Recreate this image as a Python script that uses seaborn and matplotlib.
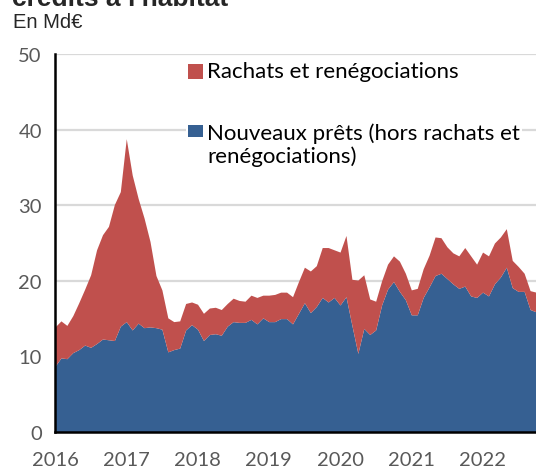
# plot.py
# Production de crédits à l'habitat : nouveaux prêts et rachats/renégociations (Md€)

import numpy as np
import pandas as pd
import matplotlib
matplotlib.use("Agg")
import matplotlib.pyplot as plt
from matplotlib.patches import Rectangle
import seaborn as sns

# Monthly data, Jan 2016 -> Oct 2022
mois = pd.date_range("2016-01-01", periods=82, freq="MS")

nouveaux_prets = [
    8.7, 9.8, 9.7, 10.5, 10.9, 11.5, 11.2, 11.7, 12.3, 12.2, 12.1, 14.0,
    14.6, 13.5, 14.4, 13.8, 13.9, 13.8, 13.6, 10.6, 10.9, 11.1, 13.5, 14.2,
    13.6, 12.1, 12.9, 13.0, 12.8, 14.0, 14.6, 14.5, 14.5, 14.9, 14.3, 15.1,
    14.6, 14.6, 15.0, 15.0, 14.3, 15.7, 17.1, 15.8, 16.6, 17.8, 17.2, 17.8,
    16.8, 17.9, 14.1, 10.4, 13.7, 12.9, 13.5, 16.8, 18.9, 19.9, 18.6, 17.5,
    15.5, 15.5, 17.8, 19.2, 20.7, 21.0, 20.3, 19.6, 19.0, 19.3, 18.0, 17.8,
    18.5, 18.0, 19.6, 20.5, 21.8, 19.1, 18.6, 18.6, 16.2, 15.9,
]

rachats = [
    5.2, 4.9, 4.4, 4.9, 6.2, 7.4, 9.6, 12.4, 13.8, 15.0, 18.0, 17.8,
    24.2, 20.5, 16.5, 14.5, 11.3, 6.9, 5.2, 4.5, 3.7, 3.6, 3.5, 3.0,
    3.3, 3.6, 3.5, 3.5, 3.4, 3.0, 3.1, 2.9, 2.8, 3.2, 3.5, 3.0,
    3.5, 3.6, 3.5, 3.5, 3.6, 4.2, 4.7, 5.5, 5.4, 6.6, 7.2, 6.3,
    7.0, 8.1, 6.1, 9.7, 7.1, 4.7, 3.8, 3.2, 3.3, 3.4, 4.0, 3.5,
    3.3, 3.5, 3.8, 4.2, 5.1, 4.7, 4.2, 4.1, 4.3, 5.1, 5.3, 4.4,
    5.3, 5.3, 5.4, 5.3, 5.1, 3.6, 3.3, 2.4, 2.5, 2.6,
]

annees = [2016, 2017, 2018, 2019, 2020, 2021, 2022]
y_ticks = [0, 10, 20, 30, 40, 50]

label_rachats = "Rachats et renégociations"
label_nouveaux = "Nouveaux prêts (hors rachats et\nrenégociations)"

bleu = "#366092"
rouge = "#C0504D"

W, H = 536, 477


def fx(x):
    return x / W


def fy(y):
    return 1 - y / H


def main():
    sns.set_theme(style="white")
    plt.rcParams["font.family"] = ["Lato", "DejaVu Sans"]

    df = pd.DataFrame({"mois": mois, "nouveaux": nouveaux_prets, "rachats": rachats})
    df["x"] = df["mois"].dt.year + (df["mois"].dt.month - 1) / 12

    fig = plt.figure(figsize=(W / 100, H / 100), dpi=100)
    ax = fig.add_axes([fx(55), fy(433), fx(536) - fx(55), fy(55) - fy(433)])

    ax.stackplot(df["x"], df["nouveaux"], df["rachats"], colors=[bleu, rouge],
                 linewidth=0, zorder=2)

    ax.set_xlim(2016, df["x"].iloc[-1])
    ax.set_ylim(0, 50)
    ax.set_xticks(annees)
    ax.set_xticklabels([str(a) for a in annees])
    ax.set_yticks(y_ticks)

    ax.yaxis.grid(True, color="#d9d9d9", linewidth=1.6, zorder=0)
    ax.xaxis.grid(False)
    ax.set_axisbelow(True)

    sns.despine(ax=ax, top=True, right=True)
    for s in ["left", "bottom"]:
        ax.spines[s].set_color("black")
        ax.spines[s].set_linewidth(1.8)
        ax.spines[s].set_zorder(3)
    ax.tick_params(axis="both", direction="inout", length=11, width=1.5,
                   color="black", labelsize=14.5, labelcolor="#595959")
    ax.tick_params(axis="y", pad=4)
    ax.tick_params(axis="x", pad=8)
    ax.set_xlabel("")
    ax.set_ylabel("")

    # title (cut at the top) and unit
    fig.text(fx(12), fy(6), "crédits à l'habitat", fontsize=19, fontweight="bold",
             family=["Liberation Sans", "DejaVu Sans"], va="baseline", ha="left")
    fig.text(fx(13), fy(28), "En Md€", fontsize=14.5,
             family=["Liberation Sans", "DejaVu Sans"], va="baseline", ha="left")

    # legend, drawn by hand to keep the two-line label aligned on its first line
    fig.add_artist(Rectangle((fx(186), fy(172)), fx(522) - fx(186), fy(112) - fy(172),
                             transform=fig.transFigure, facecolor="white",
                             edgecolor="none", zorder=1))
    fig.add_artist(Rectangle((fx(188), fy(80)), fx(15), fy(65) - fy(80),
                             transform=fig.transFigure, facecolor=rouge,
                             edgecolor="none", zorder=2))
    fig.add_artist(Rectangle((fx(188), fy(138)), fx(15), fy(126) - fy(138),
                             transform=fig.transFigure, facecolor=bleu,
                             edgecolor="none", zorder=2))
    fig.text(fx(207), fy(72), label_rachats, fontsize=16, color="black",
             va="center", ha="left", zorder=3)
    fig.text(fx(207), fy(145), label_nouveaux, fontsize=16, color="black",
             va="center", ha="left", linespacing=1.12, zorder=3)

    fig.savefig("out.png", dpi=100)


if __name__ == "__main__":
    main()
